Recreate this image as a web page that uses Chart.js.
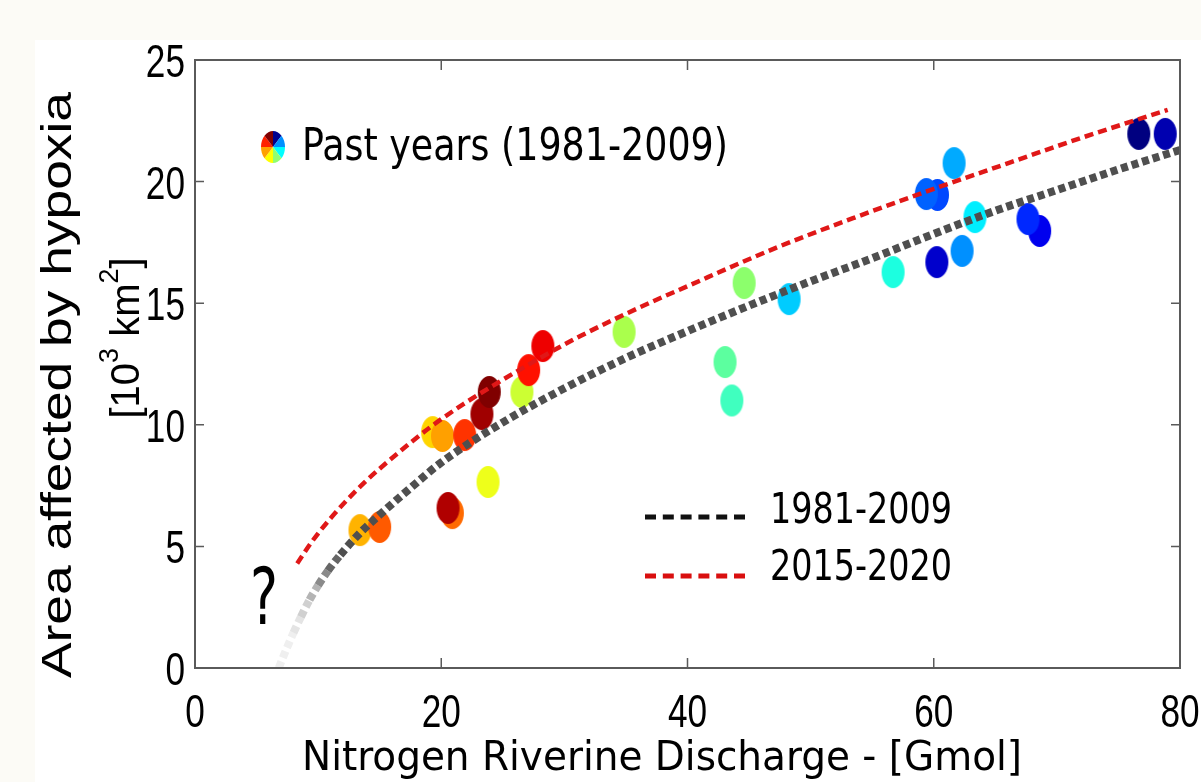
<!DOCTYPE html>
<html lang="en">
<head>
<meta charset="UTF-8" />
<title>Hypoxia area vs nitrogen discharge</title>
<script src="https://cdn.jsdelivr.net/npm/chart.js"></script>
<style>
  html, body { margin: 0; padding: 0; background: #fcfbf6; }
  canvas { display: block; }
</style>
</head>
<body>
<canvas id="hypoxiaChart" width="1201" height="782"></canvas>

<script>
// one dot per past year (1981-2009)
const pastN    = [13.4, 15.0, 19.3, 20.1, 21.9, 20.9, 20.55, 23.8, 23.3, 23.9, 26.55, 27.1, 28.25,
                  34.85, 43.05, 43.6, 44.6, 48.25, 56.7, 60.3, 59.4, 61.65, 62.3, 60.25, 63.35, 68.6, 67.65, 76.65, 78.8];
const pastArea = [5.67, 5.80, 9.70, 9.54, 9.58, 6.37, 6.58, 7.65, 10.44, 11.35, 11.35, 12.25, 13.24,
                  13.82, 12.58, 11.0, 15.83, 15.17, 16.28, 19.45, 19.49, 20.76, 17.15, 16.69, 18.54, 17.97, 18.46, 21.96, 21.96];
const pastColors = ['#ffb300', '#ff5a00', '#ffd500', '#ffa000', '#ff3300', '#ff6a00', '#b00000', '#eeff1a', '#a00000', '#800000', '#ccff33', '#ff1000', '#ee0000',
                    '#aaff4c', '#5cff9f', '#40ffbf', '#8cff6c', '#00ccff', '#1cffe0', '#0048ff', '#0062ff', '#00aaff', '#0090ff', '#0000cc', '#00eeff', '#0000ee', '#0028ff', '#000080', '#0000b0'];

// fit 1981-2009 (grey) and 2015-2020 (red)
const fitN     = [6.8, 7.4, 8.0, 8.6, 9.3, 10.0, 10.8, 11.8, 13.4, 15, 17.5, 20, 25, 30, 35, 40, 45, 50, 55, 60, 65, 70, 75, 80];
const fitArea  = [0, 0.75, 1.45, 2.1, 2.8, 3.4, 4.0, 4.65, 5.55, 6.3, 7.4, 8.45, 10.1, 11.5, 12.75, 13.85, 14.9, 15.9, 16.85, 17.85, 18.8, 19.65, 20.5, 21.3];
const newFitN    = [8.3, 9.5, 11.0, 13.6, 16.4, 19.1, 21.8, 24.5, 27, 31.3, 36, 40, 47.3, 54, 60, 66, 72, 79];
const newFitArea = [4.3, 5.2, 6.15, 7.55, 8.8, 9.9, 10.85, 11.7, 12.45, 13.65, 14.8, 15.7, 17.3, 18.6, 19.7, 20.75, 21.8, 22.95];

const xTicks = [0, 20, 40, 60, 80];
const yTicks = [0, 5, 10, 15, 20, 25];
const pieColors = ['#00008f', '#0090ff', '#00ffff', '#90ff70', '#ffff00', '#ffa000', '#ff2000', '#800000'];

function dotIcon(color) {
  const c = document.createElement('canvas');
  c.width = 25; c.height = 34;
  const g = c.getContext('2d');
  g.fillStyle = color;
  g.beginPath();
  g.ellipse(12.5, 17, 11.5, 16, 0, 0, 2 * Math.PI);
  g.fill();
  return c;
}

// grey curve fades out towards zero
function fadeGrey(y) {
  if (y < 1.4) return '#efefef';
  if (y < 2.1) return '#e4e4e4';
  if (y < 2.8) return '#d0d0d0';
  if (y < 3.4) return '#b4b4b4';
  if (y < 4.0) return '#8a8a8a';
  if (y < 4.6) return '#666666';
  return '#4f4f4f';
}

function label(ctx, str, x, y, font, opt = {}) {
  ctx.save();
  ctx.translate(x, y);
  if (opt.rotate) ctx.rotate(opt.rotate);
  ctx.font = font;
  let sx = opt.sx || 1;
  if (opt.width) sx = opt.width / ctx.measureText(str).width;
  ctx.scale(sx, opt.sy || 1);
  ctx.textAlign = opt.align || 'left';
  ctx.textBaseline = 'alphabetic';
  ctx.fillStyle = '#000';
  ctx.fillText(str, 0, 0);
  ctx.restore();
}

const decor = {
  id: 'decor',
  beforeDraw(chart) {
    const ctx = chart.ctx;
    ctx.save();
    ctx.fillStyle = '#fcfbf6';
    ctx.fillRect(0, 0, chart.width, chart.height);
    ctx.fillStyle = '#ffffff';
    ctx.fillRect(35, 40, chart.width - 35, chart.height - 40);
    ctx.restore();
  },
  afterDraw(chart) {
    const ctx = chart.ctx;
    const a = chart.chartArea;
    const xs = chart.scales.x, ys = chart.scales.y;

    // box + inward ticks
    ctx.save();
    ctx.strokeStyle = '#5a5a5a';
    ctx.lineWidth = 2;
    ctx.strokeRect(a.left, a.top, a.right - a.left, a.bottom - a.top);
    ctx.lineWidth = 1.5;
    ctx.beginPath();
    xs.ticks.forEach(t => {
      const px = xs.getPixelForValue(t.value);
      if (px <= a.left + 1 || px >= a.right - 1) return;
      ctx.moveTo(px, a.bottom); ctx.lineTo(px, a.bottom - 10);
      ctx.moveTo(px, a.top); ctx.lineTo(px, a.top + 10);
    });
    ys.ticks.forEach(t => {
      const py = ys.getPixelForValue(t.value);
      if (py <= a.top + 1 || py >= a.bottom - 1) return;
      ctx.moveTo(a.left, py); ctx.lineTo(a.left + 9, py);
      ctx.moveTo(a.right, py); ctx.lineTo(a.right - 9, py);
    });
    ctx.stroke();
    ctx.restore();

    // tick labels
    const tickFont = '40px "Liberation Sans", Arial, sans-serif';
    xs.ticks.forEach(t => {
      label(ctx, String(t.value), xs.getPixelForValue(t.value), 727, tickFont, { align: 'center', sx: 0.88, sy: 1.17 });
    });
    ys.ticks.forEach(t => {
      label(ctx, String(t.value), 185, ys.getPixelForValue(t.value) + 17, tickFont, { align: 'right', sx: 0.88, sy: 1.17 });
    });

    // axis titles
    const condensed = '"DejaVu Sans Condensed", "DejaVu Sans", sans-serif';
    label(ctx, 'Nitrogen Riverine Discharge - [Gmol]', 302, 770, '41px ' + condensed, { width: 720 });
    label(ctx, 'Area affected by hypoxia', 71, 385, '43px "Liberation Sans", Arial, sans-serif',
          { rotate: -Math.PI / 2, align: 'center', width: 586 });

    // second line of y title with superscripts
    ctx.save();
    ctx.translate(139, 338);
    ctx.rotate(-Math.PI / 2);
    ctx.fillStyle = '#000';
    ctx.textBaseline = 'alphabetic';
    const parts = [['[10', 0], ['3', 1], [' km', 0], ['2', 1], [']', 0]];
    const fonts = ['40px "Liberation Sans", Arial, sans-serif', '27px "Liberation Sans", Arial, sans-serif'];
    let total = 0;
    parts.forEach(p => { ctx.font = fonts[p[1]]; total += ctx.measureText(p[0]).width; });
    let cx = -total / 2;
    parts.forEach(p => {
      ctx.font = fonts[p[1]];
      ctx.fillText(p[0], cx, p[1] ? -21 : 0);
      cx += ctx.measureText(p[0]).width;
    });
    ctx.restore();

    // "past years" key with pie icon
    ctx.save();
    const px = 273, py = 147;
    pieColors.forEach((c, i) => {
      const s = -Math.PI / 2 + i * Math.PI / 4;
      ctx.fillStyle = c;
      ctx.beginPath();
      ctx.moveTo(px, py);
      ctx.ellipse(px, py, 12, 16, 0, s, s + Math.PI / 4);
      ctx.closePath();
      ctx.fill();
    });
    ctx.restore();
    label(ctx, 'Past years (1981-2009)', 302, 160, '44px ' + condensed, { width: 426 });

    // curve key
    ctx.save();
    ctx.lineWidth = 5;
    ctx.setLineDash([11, 6.8]);
    ctx.strokeStyle = '#111';
    ctx.beginPath(); ctx.moveTo(645, 517); ctx.lineTo(746, 517); ctx.stroke();
    ctx.strokeStyle = '#d90f0f';
    ctx.beginPath(); ctx.moveTo(645, 576); ctx.lineTo(746, 576); ctx.stroke();
    ctx.restore();
    label(ctx, '1981-2009', 770, 523, '42px ' + condensed, { width: 182 });
    label(ctx, '2015-2020', 770, 580, '42px ' + condensed, { width: 182 });

    label(ctx, '?', 264, 624, '66px "DejaVu Sans", sans-serif', { align: 'center', sx: 0.8, sy: 1.2 });
  }
};

new Chart(document.getElementById('hypoxiaChart'), {
  type: 'scatter',
  data: {
    datasets: [
      {
        label: 'Past years (1981-2009)',
        data: pastN.map((x, i) => ({ x, y: pastArea[i] })),
        pointStyle: pastColors.map(dotIcon),
        order: 3
      },
      {
        label: '1981-2009',
        data: fitN.map((x, i) => ({ x, y: fitArea[i] })),
        showLine: true,
        pointRadius: 0,
        borderColor: '#4f4f4f',
        borderWidth: 8,
        borderDash: [7, 4],
        cubicInterpolationMode: 'monotone',
        segment: { borderColor: c => fadeGrey(c.p0.parsed.y) },
        order: 1
      },
      {
        label: '2015-2020',
        data: newFitN.map((x, i) => ({ x, y: newFitArea[i] })),
        showLine: true,
        pointRadius: 0,
        borderColor: '#e01818',
        borderWidth: 4.5,
        borderDash: [9, 5],
        cubicInterpolationMode: 'monotone',
        order: 0
      }
    ]
  },
  options: {
    responsive: false,
    animation: false,
    layout: { padding: { top: 60, right: 21, left: 0, bottom: 0 } },
    plugins: {
      legend: { display: false },
      tooltip: { enabled: false }
    },
    scales: {
      x: {
        type: 'linear',
        min: xTicks[0],
        max: xTicks[xTicks.length - 1],
        ticks: { display: false, stepSize: xTicks[1] - xTicks[0] },
        grid: { display: false },
        border: { display: false },
        afterFit: s => { s.height = 114; }
      },
      y: {
        min: yTicks[0],
        max: yTicks[yTicks.length - 1],
        ticks: { display: false, stepSize: yTicks[1] - yTicks[0] },
        grid: { display: false },
        border: { display: false },
        afterFit: s => { s.width = 195; }
      }
    }
  },
  plugins: [decor]
});
</script>
</body>
</html>
